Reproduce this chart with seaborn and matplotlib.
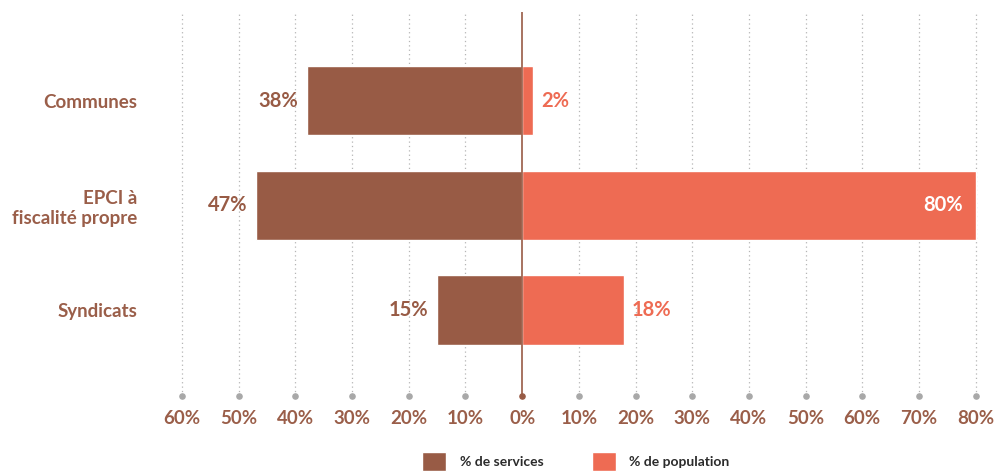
import numpy as np
import pandas as pd
import seaborn as sns
import matplotlib.pyplot as plt
from matplotlib.patches import Patch

# Data
categories = ['Communes', 'EPCI à\nfiscalité propre', 'Syndicats']
services = [38, 47, 15]      # % de services (drawn to the left)
population = [2, 80, 18]     # % de population (drawn to the right)
tick_values = [-60, -50, -40, -30, -20, -10, 0, 10, 20, 30, 40, 50, 60, 70, 80]

brown = '#985B45'
salmon = '#EE6B53'
text_brown = '#9A5E49'
grid_grey = '#B5B5B5'

df = pd.DataFrame({'categorie': categories,
                   'services': [-v for v in services],
                   'population': population})

sns.set_theme(style='white')
plt.rcParams['font.family'] = ['Lato', 'DejaVu Sans']

fig = plt.figure(figsize=(9.98, 4.74), dpi=100)
ax = fig.add_axes([0.171, 0.165, 0.818, 0.81])

# dotted vertical grid with a dot at the bottom
ymin, ymax = 2.82, -0.85
for t in tick_values:
    if t == 0:
        continue
    ax.axvline(t, color=grid_grey, lw=0.9, ls=(0, (1, 2.5)), zorder=0)
    ax.scatter([t], [ymin], s=14, color='#A8A8A8', zorder=3, clip_on=False)

sns.barplot(data=df, x='services', y='categorie', color=brown, width=0.66,
            saturation=1, ax=ax, zorder=2)
sns.barplot(data=df, x='population', y='categorie', color=salmon, width=0.66,
            saturation=1, ax=ax, zorder=2)

# zero line
ax.axvline(0, color=brown, lw=1.2, zorder=4)
ax.scatter([0], [ymin], s=14, color=brown, zorder=5, clip_on=False)

ax.set_xlim(-62, 82)
ax.set_ylim(ymin, ymax)

# value labels
for i, (s, p) in enumerate(zip(services, population)):
    ax.text(-s - 1.5, i, f'{s}%', ha='right', va='center', fontsize=14.5,
            fontweight='bold', color=brown)
    if p > 50:
        ax.text(p - 2.2, i, f'{p}%', ha='right', va='center', fontsize=14.5,
                fontweight='bold', color='white', zorder=6)
    else:
        ax.text(p + 1.4, i, f'{p}%', ha='left', va='center', fontsize=14.5,
                fontweight='bold', color=salmon)

ax.set_xticks(tick_values)
ax.set_xticklabels([f'{abs(t)}%' for t in tick_values], fontsize=13.5,
                   fontweight='bold', color=text_brown)
ax.tick_params(axis='x', length=0, pad=10)
ax.tick_params(axis='y', length=0, pad=24)
for lab in ax.get_yticklabels():
    lab.set_fontsize(13.5)
    lab.set_fontweight('bold')
    lab.set_color(text_brown)
    lab.set_horizontalalignment('right')
ax.set_xlabel('')
ax.set_ylabel('')
for sp in ax.spines.values():
    sp.set_visible(False)

handles = [Patch(facecolor=brown, label='% de services'),
           Patch(facecolor=salmon, label='% de population')]
leg = fig.legend(handles=handles, loc='center', bbox_to_anchor=(0.577, 0.027),
                 ncol=2, frameon=False, handlelength=1.7, handleheight=1.7,
                 columnspacing=3.5, handletextpad=1.0,
                 prop={'family': 'Lato', 'weight': 'bold', 'size': 10})
for t in leg.get_texts():
    t.set_color('#2B2B2B')

fig.savefig('out.png', dpi=100)
